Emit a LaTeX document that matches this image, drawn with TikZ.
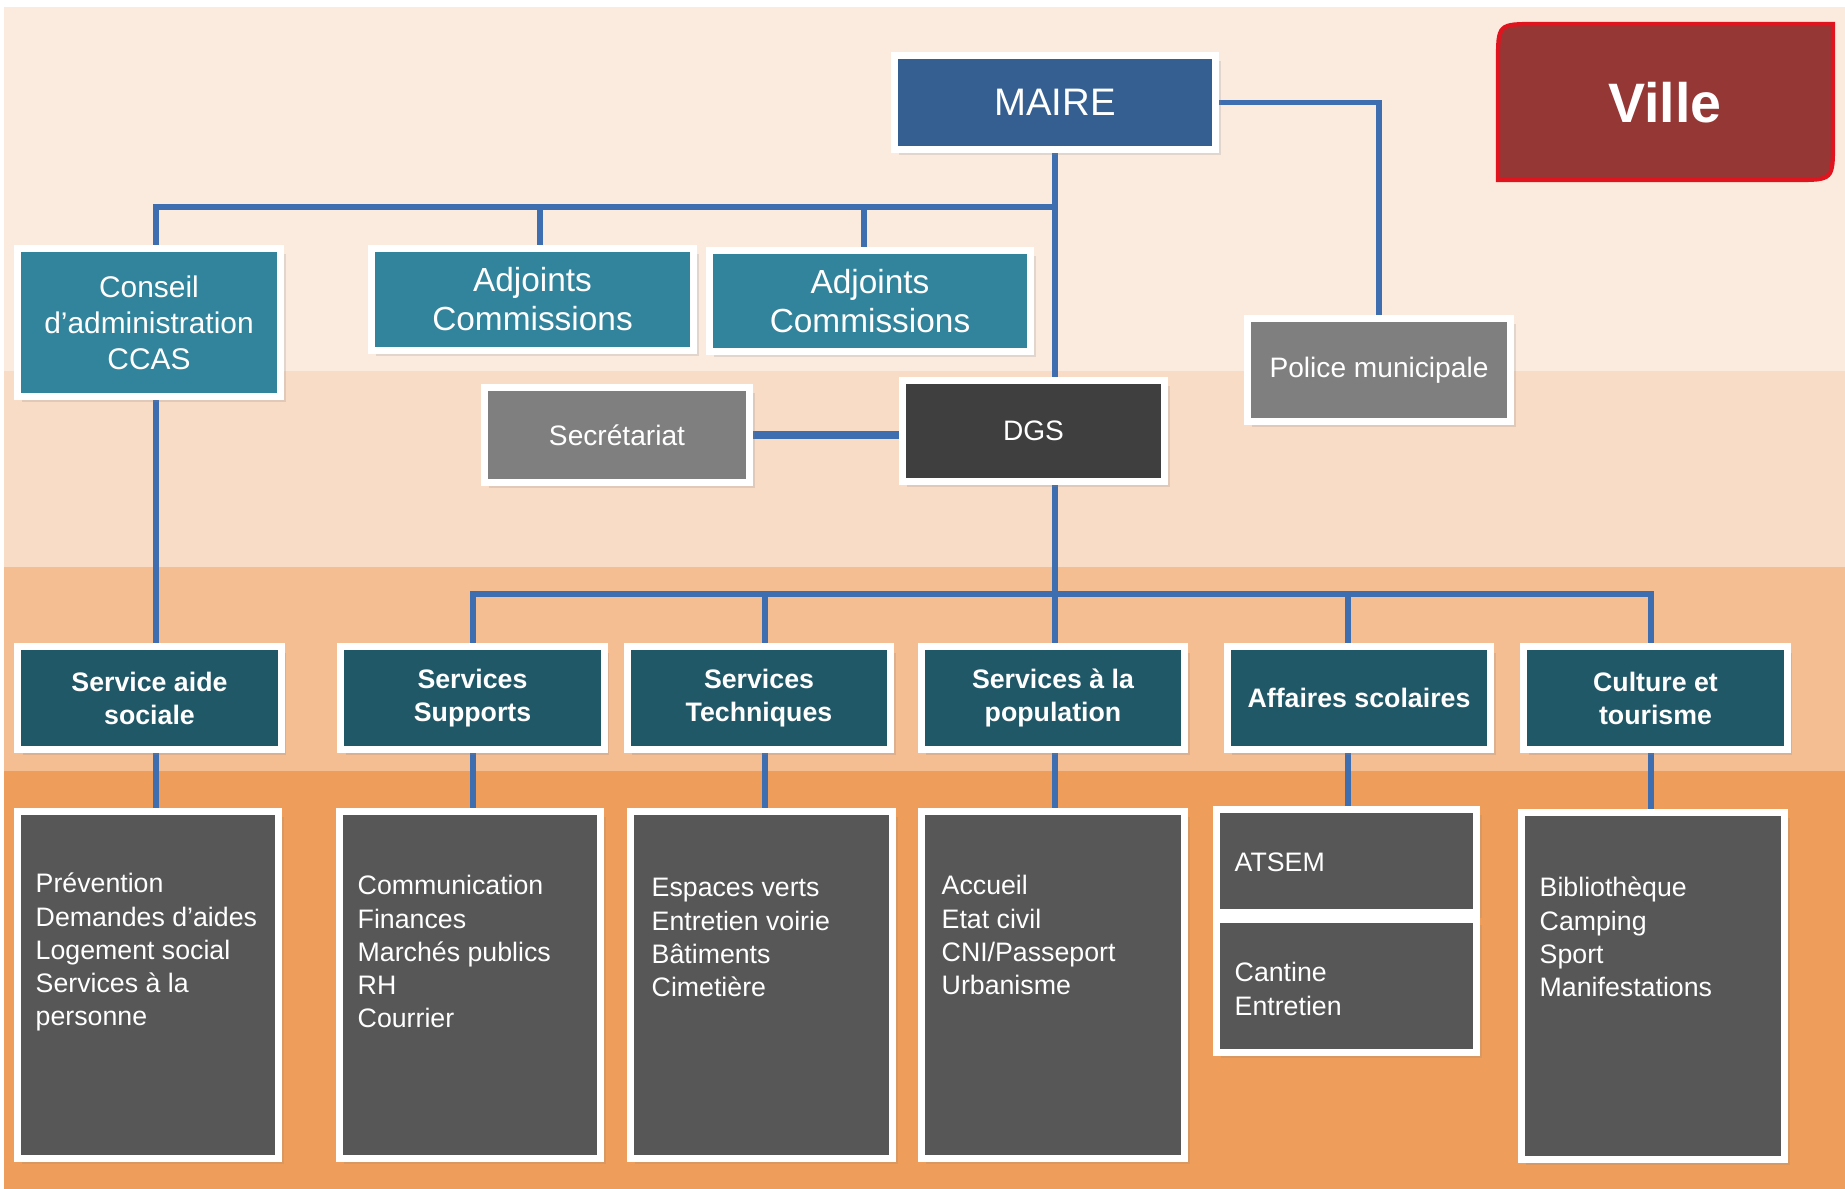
\documentclass[tikz,border=0pt]{standalone}
\usepackage{fontspec}
\setmainfont{Liberation Sans}
\usetikzlibrary{shadows,calc}
\pgfdeclarelayer{bg}
\pgfdeclarelayer{links}
\pgfsetlayers{bg,links,main}
\definecolor{bgA}{HTML}{FBEBDF}
\definecolor{bgB}{HTML}{F9DCC6}
\definecolor{bgC}{HTML}{F4BD92}
\definecolor{bgD}{HTML}{EE9E5A}
\definecolor{lineblue}{HTML}{3E6EB0}
\definecolor{maireblue}{HTML}{365F91}
\definecolor{tealA}{HTML}{31849B}
\definecolor{tealB}{HTML}{215868}
\definecolor{greyA}{HTML}{7F7F7F}
\definecolor{dgsgrey}{HTML}{3F3F3F}
\definecolor{listgrey}{HTML}{575757}
\definecolor{villefill}{HTML}{953735}
\definecolor{villeline}{HTML}{E0141E}
\begin{document}
\begin{tikzpicture}[x=0.01cm,y=-0.01cm,
  frame/.style={draw=white, line width=2pt, inner sep=0pt, text=white, align=center,
     drop shadow={shadow xshift=1.4pt, shadow yshift=-1.6pt, opacity=0.2}},
  link/.style={draw=lineblue, line width=1.5pt},
  svc/.style={frame, fill=tealB, minimum width=2.63cm, minimum height=1.02cm,
     font=\bfseries\fontsize{7.6}{9.4}\selectfont},
  lst/.style={frame, fill=listgrey, minimum height=3.47cm},
  lsttxt/.style={anchor=base west, inner sep=0pt, text=white},
  mid/.style={font=\fontsize{8}{9.6}\selectfont}
]
\useasboundingbox (0,0) rectangle (1845,1189);
\begin{pgfonlayer}{bg}
  \fill[white] (0,0) rectangle (1845,1189);
  \fill[bgA] (4,7) rectangle (1845,371);
  \fill[bgB] (4,371) rectangle (1845,567);
  \fill[bgC] (4,567) rectangle (1845,771);
  \fill[bgD] (4,771) rectangle (1845,1189);
\end{pgfonlayer}

% Ville tag
\path[fill=villefill, draw=villeline, line width=1.2pt]
  (1536,24) -- (1833,24) -- (1833,142) .. controls (1833,180) .. (1795,180)
  -- (1498,180) -- (1498,62) .. controls (1498,24) .. (1536,24) -- cycle;
\node[text=white, font=\bfseries\fontsize{15.8}{18}\selectfont] (ville) at (1665,103) {Ville};

% top level
\node[frame, fill=maireblue, minimum width=3.21cm, minimum height=0.94cm,
      font=\fontsize{10.9}{13}\selectfont] (maire) at (1055,102.5) {MAIRE};
\node[frame, fill=greyA, minimum width=2.63cm, minimum height=1.03cm, mid] (police) at (1379,370) {Police municipale};

\node[frame, fill=tealA, minimum width=2.63cm, minimum height=1.48cm,
      font=\fontsize{8.5}{10.2}\selectfont] (conseil) at (149,322.5) {Conseil\\d’administration\\CCAS};
\node[frame, fill=tealA, minimum width=3.22cm, minimum height=1.02cm,
      font=\fontsize{9.5}{11.1}\selectfont] (adj1) at (532.5,299.5) {Adjoints\\Commissions};
\node[frame, fill=tealA, minimum width=3.21cm, minimum height=1.01cm,
      font=\fontsize{9.5}{11.1}\selectfont] (adj2) at (870,301) {Adjoints\\Commissions};

\node[frame, fill=greyA, minimum width=2.65cm, minimum height=0.95cm, mid] (secr) at (617,435) {Secrétariat};
\node[frame, fill=dgsgrey, minimum width=2.62cm, minimum height=1.01cm, mid] (dgs) at (1033.5,431) {DGS};

% services
\node[svc] (sas) at (149.5,698) {Service aide\\sociale};
\node[svc] (ssup) at (472.5,698) {Services\\Supports};
\node[svc] (stech) at (759,698) {Services\\Techniques};
\node[svc] (spop) at (1053,698) {Services à la\\population};
\node[svc] (saff) at (1359,698) {Affaires scolaires};
\node[svc] (scult) at (1655.5,698) {Culture et\\tourisme};

% lists
\node[lst, minimum width=2.61cm] (l1) at (148,985) {};
\node[lst, minimum width=2.61cm] (l2) at (470,985) {};
\node[lst, minimum width=2.62cm] (l3) at (761.5,985) {};
\node[lst, minimum width=2.63cm] (l4) at (1053,985) {};
\node[frame, fill=listgrey, minimum width=2.60cm, minimum height=1.03cm] (l5a) at (1346.5,861) {};
\node[frame, fill=listgrey, minimum width=2.60cm, minimum height=1.33cm] (l5b) at (1346.5,986) {};
\node[lst, minimum width=2.63cm] (l6) at (1653,986) {};

\newcommand{\lstfont}{\fontsize{7.6}{9.4}\selectfont}
\node[lsttxt] (t1) at (35,893) {\parbox[t]{2.4cm}{\lstfont Prévention\\Demandes d’aides\\Logement social\\Services à la\\personne}};
\node[lsttxt] (t2) at (357,895) {\parbox[t]{2.4cm}{\lstfont Communication\\Finances\\Marchés publics\\RH\\Courrier}};
\node[lsttxt] (t3) at (651,897) {\parbox[t]{2.4cm}{\lstfont Espaces verts\\Entretien voirie\\Bâtiments\\Cimetière}};
\node[lsttxt] (t4) at (941,895) {\parbox[t]{2.4cm}{\lstfont Accueil\\Etat civil\\CNI/Passeport\\Urbanisme}};
\node[lsttxt] (t5) at (1234,872) {\parbox[t]{2.4cm}{\lstfont ATSEM}};
\node[lsttxt] (t6) at (1234,982) {\parbox[t]{2.4cm}{\lstfont Cantine\\Entretien}};
\node[lsttxt] (t7) at (1539,897) {\parbox[t]{2.4cm}{\lstfont Bibliothèque\\Camping\\Sport\\Manifestations}};

% connectors
\coordinate (tb1) at (156,207);
\coordinate (tb2) at (540,207);
\coordinate (tb3) at (864,207);
\coordinate (tb4) at (1055,207);
\coordinate (bb1) at (473,594);
\coordinate (bb2) at (765,594);
\coordinate (bb3) at (1055,594);
\coordinate (bb4) at (1348,594);
\coordinate (bb5) at (1651,594);
\begin{pgfonlayer}{links}
  \draw[link] (maire.east) -| (police.north);
  \draw[link] (maire.south) -- (maire.south |- dgs.north);
  \draw[link] (tb1 |- conseil.north) -- (tb1) -- (tb4);
  \draw[link] (tb2) -- (tb2 |- adj1.north);
  \draw[link] (tb3) -- (tb3 |- adj2.north);
  \draw[link] (tb1 |- conseil.south) -- (tb1 |- sas.north);
  \draw[link, line width=2pt] (secr.east) -- (secr.east -| dgs.west);
  \draw[link] (bb3 |- dgs.south) -- (bb3);
  \draw[link] (bb1 |- ssup.north) -- (bb1) -- (bb5) -- (bb5 |- scult.north);
  \draw[link] (bb2) -- (bb2 |- stech.north);
  \draw[link] (bb3) -- (bb3 |- spop.north);
  \draw[link] (bb4) -- (bb4 |- saff.north);
  \draw[link] (tb1 |- sas.south) -- (tb1 |- l1.north);
  \draw[link] (bb1 |- ssup.south) -- (bb1 |- l2.north);
  \draw[link] (bb2 |- stech.south) -- (bb2 |- l3.north);
  \draw[link] (bb3 |- spop.south) -- (bb3 |- l4.north);
  \draw[link] (bb4 |- saff.south) -- (bb4 |- l5a.north);
  \draw[link] (bb5 |- scult.south) -- (bb5 |- l6.north);
\end{pgfonlayer}
\end{tikzpicture}
\end{document}
